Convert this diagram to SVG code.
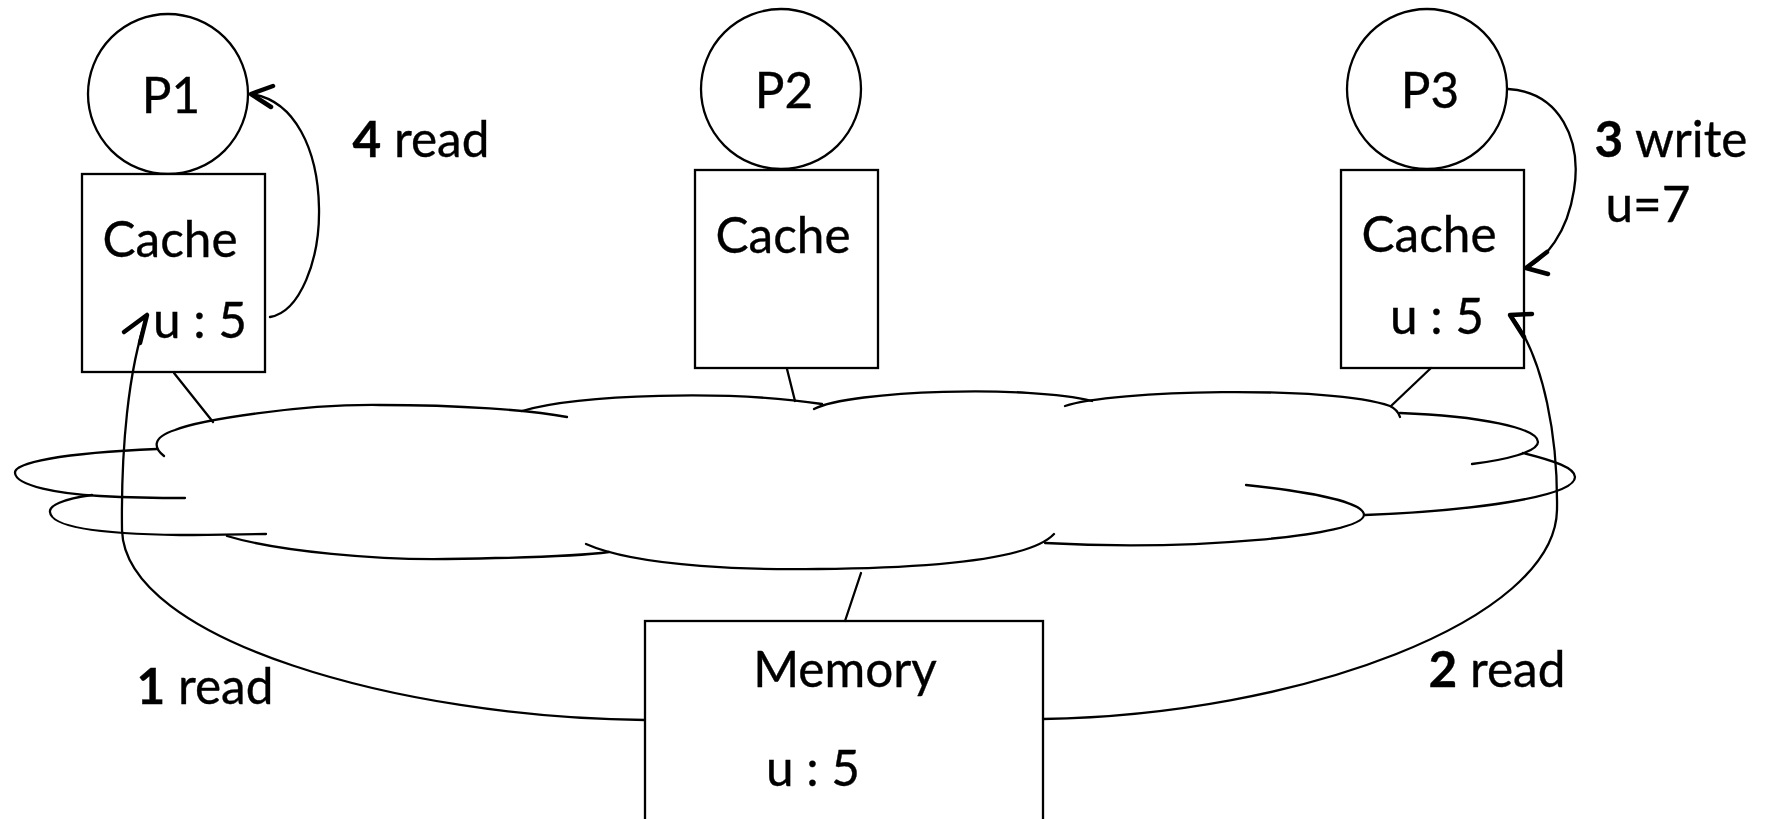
<svg xmlns="http://www.w3.org/2000/svg" width="1766" height="819" viewBox="0 0 1766 819">
<style>
.s{fill:none;stroke:#000;stroke-width:2.3;stroke-linecap:round}
.n{fill:#fff;stroke:#000;stroke-width:2.3}
.h{fill:none;stroke:#000;stroke-width:4.5;stroke-linecap:round;stroke-linejoin:round}
.t{font-family:Lato,"Liberation Sans",sans-serif;font-size:49.5px;fill:#000;text-anchor:middle;stroke:#000;stroke-width:0.35}
.b{font-weight:bold}
</style>
<rect width="1766" height="819" fill="#fff"/>
<g id="network">
<path class="s" d="M164 456 C155 449,150 438,175 430 C200 420,300 404,380 405 C460 405,530 410,567 417"/>
<path class="s" d="M522 411 C580 394,730 390,822 404"/>
<path class="s" d="M814 409 C850 390,1030 385,1092 401"/>
<path class="s" d="M1065 406 C1110 390,1330 385,1390 406 Q1398 410,1400 417"/>
<path class="s" d="M1400 413 C1480 416,1538 428,1538 442 C1538 452,1505 460,1472 464"/>
<path class="s" d="M1523 453 C1555 461,1575 468,1575 477 C1575 497,1470 511,1365 515"/>
<path class="s" d="M1246 485 C1330 494,1364 505,1364 515 C1362 536,1190 551,1045 543"/>
<path class="s" d="M586 544 C640 568,760 570,818 569 C930 568,1030 560,1054 534"/>
<path class="s" d="M227 536 C280 552,380 560,446 559 C520 558,580 556,609 552"/>
<path class="s" d="M92 495 C62 499,49 506,50 512 C51 527,100 534,180 535 C220 535,250 534,266 534"/>
<path class="s" d="M157 449 C60 453,14 463,15 473 C16 486,60 494,100 496 C140 498,170 498,185 498"/>
</g>
<g id="p1"><circle class="n" cx="168" cy="94" r="80"/><text class="t" x="171" y="113">P1</text></g>
<g id="cache1"><rect class="n" x="82" y="174" width="183" height="198"/><text class="t" x="170" y="257">Cache</text><text class="t" x="200" y="338">u : 5</text></g>
<g id="p2"><circle class="n" cx="781" cy="89" r="80"/><text class="t" x="784" y="108">P2</text></g>
<g id="cache2"><rect class="n" x="695" y="170" width="183" height="198"/><text class="t" x="783" y="253">Cache</text></g>
<g id="p3"><circle class="n" cx="1427" cy="89" r="80"/><text class="t" x="1430" y="108">P3</text></g>
<g id="cache3"><rect class="n" x="1341" y="170" width="183" height="198"/><text class="t" x="1429" y="252">Cache</text><text class="t" x="1437" y="334">u : 5</text></g>
<g id="memory"><rect class="n" x="645" y="621" width="398" height="220"/><text class="t" x="845" y="687">Memory</text><text class="t" x="813" y="786">u : 5</text></g>
<g id="connectors">
<line class="s" x1="174" y1="373" x2="213" y2="422"/>
<line class="s" x1="787" y1="369" x2="795" y2="401"/>
<line class="s" x1="1431" y1="368" x2="1391" y2="406"/>
<line class="s" x1="845" y1="621" x2="861" y2="573"/>
<path class="s" d="M270 317 C300 312,320 260,319 208 C318 150,295 100,251 94"/>
<path class="h" d="M273 86 L251 94 L271 107"/>
<path class="s" d="M1508 89 C1560 92,1582 140,1574 190 C1567 235,1545 258,1527 268"/>
<path class="h" d="M1547 252 L1526 268 L1548 274"/>
<path class="s" d="M645 720 C400 718,125 640,122 530 C121 450,128 370,147 316"/>
<path class="h" d="M124 332 L147 315 L140 343"/>
<path class="s" d="M1043 719 C1300 715,1555 620,1557 510 C1558 440,1545 360,1511 315"/>
<path class="h" d="M1532 314 L1510 315 L1524 337"/>
</g>
<g id="labels">
<text class="t" x="421" y="157"><tspan class="b">4</tspan> read</text>
<text class="t" x="1671" y="157"><tspan class="b">3</tspan> write</text>
<text class="t" x="1648" y="222">u=7</text>
<text class="t" x="205" y="704"><tspan class="b">1</tspan> read</text>
<text class="t" x="1497" y="687"><tspan class="b">2</tspan> read</text>
</g>
</svg>
